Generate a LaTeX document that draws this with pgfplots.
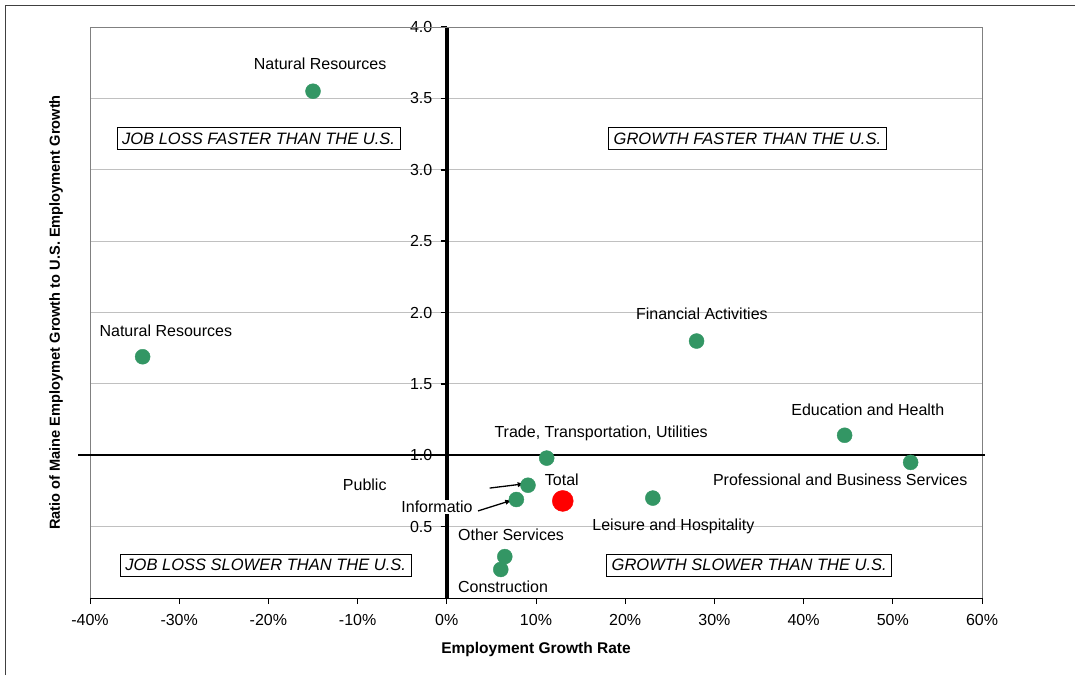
\documentclass[border=0pt]{standalone}
\usepackage{pgfplots}
\pgfplotsset{compat=1.18}
\usepackage{fontspec}
\setmainfont{Liberation Sans}
\definecolor{dotgreen}{RGB}{51,150,100}
\definecolor{gridgray}{RGB}{192,192,192}
\begin{document}
\begin{tikzpicture}
\begin{axis}[
  at={(0,0)}, anchor=south west,
  scale only axis, width=892pt, height=571pt,
  xmin=-40, xmax=60, ymin=0, ymax=4,
  axis x line=bottom, axis y line=center,
  axis line style={-},
  x axis line style={black, line width=0.8pt},
  y axis line style={black, line width=4pt},
  xtick={-40,-30,...,60},
  ytick={0.5,1.0,...,4.0},
  tick align=outside,
  major tick length=6pt,
  xtick style={black, line width=0.8pt},
  ytick style={black, line width=1.6pt},
  ymajorgrids,
  grid style={gridgray, line width=0.8pt},
  /pgf/number format/assume math mode=true,
  font=\fontsize{16pt}{19pt}\selectfont,
  tick label style={font=\fontsize{16pt}{19pt}\selectfont},
  xticklabel={\pgfmathprintnumber{\tick}\%},
  xticklabel style={yshift=-7pt},
  yticklabel style={xshift=-5pt, /pgf/number format/.cd, fixed, fixed zerofill, precision=1},
  xlabel={\bfseries Employment Growth Rate},
  ylabel={\bfseries Ratio of Maine Employmet Growth to U.S. Employment Growth},
  xlabel style={at={(axis description cs:0.5,0)}, anchor=center, yshift=-51pt, font=\fontsize{15.5pt}{18pt}\selectfont},
  ylabel style={at={(axis description cs:0,0.5)}, anchor=center, rotate=90, yshift=34pt, font=\fontsize{14.6pt}{17pt}\selectfont},
  clip=false,
]
% plot area border
\draw[gray, line width=0.8pt] (axis cs:-40,0) -- (axis cs:-40,4) -- (axis cs:60,4) -- (axis cs:60,0);
% reference line at 1.0
\draw[black, line width=1.6pt] (axis cs:-41.3,1) -- (axis cs:60.3,1);

\addplot[only marks, mark=*, mark size=7.5pt, mark options={draw=dotgreen, fill=dotgreen}] coordinates {
  (-15.0,3.55) (-34.1,1.69) (28.0,1.80) (44.6,1.14) (52.0,0.95)
  (11.2,0.98) (9.1,0.79) (7.8,0.69) (23.1,0.70) (6.5,0.29) (6.05,0.20)
};
\addplot[only marks, mark=*, mark size=10.5pt, mark options={draw=red, fill=red}] coordinates {
  (13.0,0.68)
};

\draw[-latex, line width=1.3pt] (axis cs:4.8,0.77) -- (axis cs:8.7,0.80);
\draw[-latex, line width=1.3pt] (axis cs:3.5,0.61) -- (axis cs:7.3,0.685);

\node at (axis cs:-14.2,3.74) {Natural Resources};
\node at (axis cs:-31.5,1.87) {Natural Resources};
\node at (axis cs:28.6,1.99) {Financial Activities};
\node at (axis cs:47.2,1.32) {Education and Health};
\node at (axis cs:17.3,1.15) {Trade, Transportation, Utilities};
\node at (axis cs:-9.2,0.79) {Public};
\node at (axis cs:12.9,0.83) {Total};
\node[fill=white, inner sep=1pt] at (axis cs:-1.1,0.64) {Informatio};
\node at (axis cs:44.1,0.83) {Professional and Business Services};
\node at (axis cs:25.4,0.50) {Leisure and Hospitality};
\node at (axis cs:7.2,0.44) {Other Services};
\node at (axis cs:6.3,0.08) {Construction};

\tikzset{qbox/.style={draw=black, fill=white, line width=0.8pt, inner xsep=5pt, inner ysep=5pt, font=\itshape\fontsize{16.5pt}{19pt}\selectfont}}
\node[qbox] at (axis cs:-21.1,3.22) {JOB LOSS FASTER THAN THE U.S.};
\node[qbox] at (axis cs:33.7,3.22) {GROWTH FASTER THAN THE U.S.};
\node[qbox] at (axis cs:-20.3,0.23) {JOB LOSS SLOWER THAN THE U.S.};
\node[qbox] at (axis cs:33.9,0.23) {GROWTH SLOWER THAN THE U.S.};
\end{axis}
\draw[black!75, line width=1pt] (-84pt,-77pt) -- (-84pt,592pt) -- (985pt,592pt);
\pgfresetboundingbox
\path (-90pt,-77pt) rectangle (985pt,598pt);
\end{tikzpicture}
\end{document}
